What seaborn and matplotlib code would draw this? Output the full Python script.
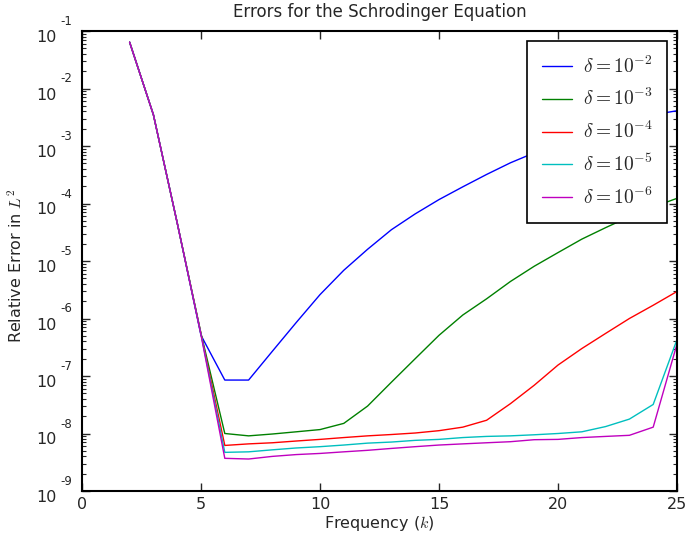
import matplotlib
matplotlib.use("Agg")
import matplotlib.pyplot as plt
import matplotlib.transforms as mtransforms
import seaborn as sns
import numpy as np
import pandas as pd
from matplotlib.ticker import LogLocator, NullFormatter, MultipleLocator

# ---- data ----
freq = [2, 3, 4, 5, 6, 7, 8, 9, 10, 11, 12, 13, 14, 15, 16, 17, 18, 19, 20, 21, 22, 23, 24, 25]
deltas = ["10^{-2}", "10^{-3}", "10^{-4}", "10^{-5}", "10^{-6}"]
ytick_exponents = [-9, -8, -7, -6, -5, -4, -3, -2, -1]

err_d2 = [6.4e-2, 3.5e-3, 4.6e-5, 5.1e-7, 8.5e-8, 8.5e-8, 2.7e-7, 8.5e-7, 2.6e-6, 6.9e-6,
          1.6e-5, 3.5e-5, 6.6e-5, 1.17e-4, 1.95e-4, 3.2e-4, 5.1e-4, 7.6e-4, 1.12e-3, 1.6e-3,
          2.2e-3, 2.9e-3, 3.5e-3, 4.1e-3]
err_d3 = [6.4e-2, 3.5e-3, 4.6e-5, 5.5e-7, 1.0e-8, 9.1e-9, 9.8e-9, 1.07e-8, 1.17e-8, 1.5e-8,
          3.0e-8, 7.8e-8, 2.0e-7, 5.1e-7, 1.15e-6, 2.2e-6, 4.4e-6, 8.1e-6, 1.4e-5, 2.4e-5,
          3.8e-5, 5.9e-5, 8.7e-5, 1.23e-4]
err_d4 = [6.4e-2, 3.5e-3, 4.6e-5, 5.4e-7, 6.2e-9, 6.6e-9, 6.9e-9, 7.4e-9, 7.9e-9, 8.5e-9,
          9.1e-9, 9.6e-9, 1.02e-8, 1.12e-8, 1.29e-8, 1.7e-8, 3.3e-8, 6.9e-8, 1.55e-7, 3.0e-7,
          5.5e-7, 1.0e-6, 1.7e-6, 2.95e-6]
err_d5 = [6.4e-2, 3.5e-3, 4.6e-5, 5.3e-7, 4.7e-9, 4.8e-9, 5.2e-9, 5.6e-9, 5.9e-9, 6.3e-9,
          6.8e-9, 7.1e-9, 7.6e-9, 7.9e-9, 8.5e-9, 8.9e-9, 9.1e-9, 9.5e-9, 1.0e-8, 1.07e-8,
          1.32e-8, 1.78e-8, 3.2e-8, 4.3e-7]
err_d6 = [6.4e-2, 3.5e-3, 4.6e-5, 5.2e-7, 3.7e-9, 3.6e-9, 4.0e-9, 4.3e-9, 4.5e-9, 4.8e-9,
          5.1e-9, 5.5e-9, 5.9e-9, 6.3e-9, 6.6e-9, 6.9e-9, 7.2e-9, 7.8e-9, 7.9e-9, 8.5e-9,
          8.9e-9, 9.3e-9, 1.29e-8, 3.6e-7]

colors = ["#0000ff", "#008000", "#ff0000", "#00bfbf", "#bf00bf"]

# ---- build long table ----
series = [err_d2, err_d3, err_d4, err_d5, err_d6]
labels = [r"$\delta = %s$" % d for d in deltas]
rows = []
for lab, vals in zip(labels, series):
    for k, v in zip(freq, vals):
        rows.append({"k": k, "err": v, "delta": lab})
df = pd.DataFrame(rows)

sns.set_style("ticks")
plt.rcParams["font.family"] = ["DejaVu Sans"]
plt.rcParams["mathtext.fontset"] = "cm"

fig = plt.figure(figsize=(6.87, 5.33), dpi=100)
ax = fig.add_axes([82 / 687, 1 - 491 / 533, (677 - 82) / 687, (491 - 31) / 533])

sns.lineplot(data=df, x="k", y="err", hue="delta", palette=dict(zip(labels, colors)),
             ax=ax, linewidth=1.0, legend=True, sort=False)

ax.set_yscale("log")
ax.set_xlim(0, 25)
ax.set_ylim(1e-9, 1e-1)
ax.xaxis.set_major_locator(MultipleLocator(5))
ax.yaxis.set_major_locator(LogLocator(base=10, numticks=20))
ax.yaxis.set_minor_locator(LogLocator(base=10, subs=np.arange(2, 10), numticks=100))
ax.yaxis.set_major_formatter(NullFormatter())
ax.yaxis.set_minor_formatter(NullFormatter())

# old-style log tick labels: "10" below the tick, exponent raised above it
ytrans = ax.get_yaxis_transform()
for e in ytick_exponents:
    base_tr = ytrans + mtransforms.ScaledTranslation(-25 / 100, 1 / 100, fig.dpi_scale_trans)
    ax.text(0, 10.0 ** e, "10", transform=base_tr, ha="right", va="top",
            fontsize=11.5, clip_on=False)
    exp_tr = ytrans + mtransforms.ScaledTranslation(-22 / 100, 3 / 100, fig.dpi_scale_trans)
    ax.text(0, 10.0 ** e, "%d" % e, transform=exp_tr, ha="left", va="bottom",
            fontsize=8.5, clip_on=False)

ax.tick_params(which="both", top=True, right=True, direction="in")
ax.tick_params(which="major", length=6, width=1, labelsize=11.5)
ax.tick_params(which="minor", length=3, width=0.8)
ax.tick_params(axis="x", pad=4)
for s in ax.spines.values():
    s.set_linewidth(1.5)
    s.set_color("black")

ax.set_title("Errors for the Schrodinger Equation", fontsize=12, pad=10)
ax.set_xlabel(r"Frequency ($k$)", fontsize=11.5, labelpad=2)
ax.set_ylabel(r"Relative Error in $L^2$", fontsize=11.5)
ax.yaxis.set_label_coords((25 - 82) / 595, 0.49)

leg = ax.legend(loc="upper right", fontsize=14, frameon=True, fancybox=False,
                borderpad=0.75, labelspacing=0.6, handlelength=1.55, handletextpad=0.55,
                borderaxespad=0.5)
leg.get_frame().set_edgecolor("black")
leg.get_frame().set_linewidth(1.2)
leg.get_frame().set_alpha(1)

fig.savefig("out.png", dpi=100)
